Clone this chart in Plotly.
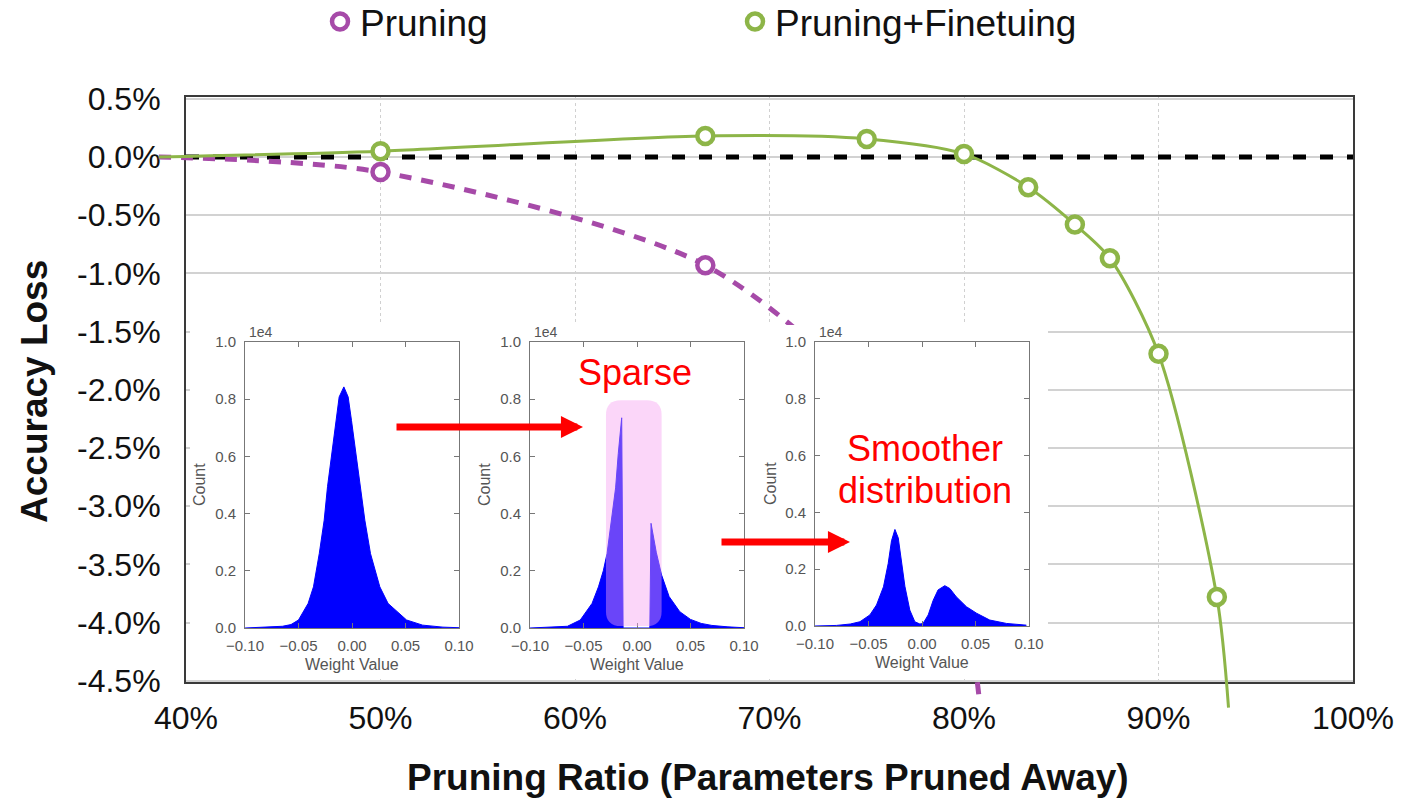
import plotly.graph_objects as go

W, H = 1408, 799

# ---------------- data ----------------
x_tick_vals = [40, 50, 60, 70, 80, 90, 100]
x_tick_labels = ["40%", "50%", "60%", "70%", "80%", "90%", "100%"]
y_tick_vals = [0.5, 0.0, -0.5, -1.0, -1.5, -2.0, -2.5, -3.0, -3.5, -4.0, -4.5]
y_tick_labels = ["0.5%", "0.0%", "-0.5%", "-1.0%", "-1.5%", "-2.0%", "-2.5%",
                 "-3.0%", "-3.5%", "-4.0%", "-4.5%"]

# Pruning (no finetuning)
prune_ratio = [50, 66.7, 75, 80]
prune_loss = [-0.13, -0.93, -2.1, -3.9]
prune_curve_x = [38.6, 50, 66.7, 75, 80, 80.8]
prune_curve_y = [0.0, -0.13, -0.93, -2.1, -3.9, -4.68]

# Pruning + Finetuning
ft_ratio = [50, 66.7, 75, 80, 83.3, 85.7, 87.5, 90, 93.0]
ft_loss = [0.05, 0.18, 0.155, 0.026, -0.26, -0.58, -0.87, -1.69, -3.78]
ft_curve_x = [38.6, 50, 66.7, 75, 80, 83.3, 85.7, 87.5, 90, 93.0, 93.6]
ft_curve_y = [0.0, 0.05, 0.18, 0.155, 0.026, -0.26, -0.58, -0.87, -1.69, -3.78, -4.73]

baseline_x = [40, 100]
baseline_y = [0.0, 0.0]

# Inset histograms (weight value -> count, in units of 1e4)
h1_x = [-0.100, -0.080, -0.065, -0.057, -0.050, -0.041, -0.036, -0.0306, -0.026, -0.0229,
        -0.019, -0.015, -0.012, -0.0076, -0.0036, -0.0005, 0.0036, 0.0076, 0.012, 0.0173,
        0.026, 0.0337, 0.051, 0.066, 0.085, 0.100]
h1_y = [0.000, 0.002, 0.006, 0.012, 0.028, 0.086, 0.144, 0.26, 0.377, 0.494,
        0.61, 0.726, 0.808, 0.843, 0.808, 0.726, 0.61, 0.494, 0.377, 0.26,
        0.144, 0.086, 0.028, 0.01, 0.003, 0.001]

h2_x = [-0.100, -0.080, -0.065, -0.053, -0.042, -0.036, -0.0315, -0.028, -0.0237, -0.020,
        -0.0175, -0.0143, -0.0130, 0.0120, 0.0131, 0.018, 0.023, 0.030, 0.040, 0.050,
        0.060, 0.070, 0.085, 0.100]
h2_y = [0.000, 0.002, 0.006, 0.028, 0.086, 0.144, 0.20, 0.26, 0.377, 0.49,
        0.61, 0.735, 0.0, 0.0, 0.366, 0.265, 0.185, 0.11, 0.057, 0.03,
        0.016, 0.009, 0.004, 0.001]

h3_x = [-0.100, -0.080, -0.067, -0.058, -0.0487, -0.0425, -0.036, -0.0316, -0.0285, -0.0253,
        -0.0222, -0.019, -0.016, -0.0114, -0.0067, -0.002, 0.001, 0.0058, 0.0104, 0.015,
        0.0213, 0.026, 0.032, 0.0415, 0.051, 0.0633, 0.079, 0.0975]
h3_y = [0.000, 0.002, 0.007, 0.015, 0.039, 0.074, 0.138, 0.22, 0.30, 0.34,
        0.31, 0.23, 0.14, 0.056, 0.015, 0.007, 0.009, 0.039, 0.09, 0.127,
        0.142, 0.132, 0.103, 0.068, 0.045, 0.021, 0.009, 0.003]

inset_x_ticks = [-0.10, -0.05, 0.00, 0.05, 0.10]
inset_y_ticks = [0.0, 0.2, 0.4, 0.6, 0.8, 1.0]

PURPLE = "#A64AA8"
GREEN = "#8DB548"
FONT = "Liberation Sans, Arial, Helvetica, sans-serif"


# ---------------- helpers (pixel -> paper) ----------------
def dx(a, b):
    return [a / W, b / W]


def dy(top, bottom):
    return [1 - bottom / H, 1 - top / H]


def px(p):
    return p / W


def py(p):
    return 1 - p / H


# main plot box (pixels)
L, R, T, B = 186, 1353, 97, 682
XR = [40, 100]
YR = [-4.51, 0.515]
sx = (XR[1] - XR[0]) / (R - L)
sy = (YR[1] - YR[0]) / (B - T)
XR_full = [XR[0] - L * sx, XR[1] + (W - R) * sx]
YR_full = [YR[0] - (H - B) * sy, YR[1] + T * sy]

fig = go.Figure()

# subplot 1: main axes (grid) -- dummy trace to fix order
fig.add_trace(go.Scatter(x=[None], y=[None], xaxis="x", yaxis="y",
                         showlegend=False, hoverinfo="skip"))

# subplot 2: full-figure overlay for the curves (same scale as main axes)
fig.add_trace(go.Scatter(x=baseline_x, y=baseline_y, xaxis="x2", yaxis="y2",
                         mode="lines", line=dict(color="black", width=5, dash="13px,14px"),
                         showlegend=False, hoverinfo="skip"))
fig.add_trace(go.Scatter(x=prune_curve_x, y=prune_curve_y, xaxis="x2", yaxis="y2",
                         mode="lines", line=dict(color=PURPLE, width=5, dash="12px,10px",
                                                 shape="spline", smoothing=0.8),
                         showlegend=False, hoverinfo="skip"))
fig.add_trace(go.Scatter(x=ft_curve_x, y=ft_curve_y, xaxis="x2", yaxis="y2",
                         mode="lines", line=dict(color=GREEN, width=3, shape="spline", smoothing=0.8),
                         showlegend=False, hoverinfo="skip"))
fig.add_trace(go.Scatter(x=prune_ratio, y=prune_loss, xaxis="x2", yaxis="y2",
                         mode="markers", name="Pruning",
                         marker=dict(symbol="circle", size=16, color="white",
                                     line=dict(color=PURPLE, width=4.5))))
fig.add_trace(go.Scatter(x=ft_ratio, y=ft_loss, xaxis="x2", yaxis="y2",
                         mode="markers", name="Pruning+Finetuing",
                         marker=dict(symbol="circle", size=16, color="white",
                                     line=dict(color=GREEN, width=4.5))))

# subplot 3: white cover behind the insets
fig.add_trace(go.Scatter(x=[0, 1, 1, 0, 0], y=[0, 0, 1, 1, 0], xaxis="x3", yaxis="y3",
                         mode="lines", fill="toself", fillcolor="white",
                         line=dict(width=0, color="white"), showlegend=False, hoverinfo="skip"))

# subplots 4-6: histogram insets
for i, (hx, hy) in enumerate([(h1_x, h1_y), (h2_x, h2_y), (h3_x, h3_y)]):
    n = i + 4
    fig.add_trace(go.Scatter(x=hx, y=hy, xaxis=f"x{n}", yaxis=f"y{n}",
                             mode="lines", fill="tozeroy", fillcolor="#0000FF",
                             line=dict(color="#0000FF", width=1),
                             showlegend=False, hoverinfo="skip"))

layout = dict(
    width=W, height=H,
    margin=dict(l=0, r=0, t=0, b=0, pad=0, autoexpand=False),
    paper_bgcolor="white", plot_bgcolor="rgba(0,0,0,0)",
    font=dict(family=FONT, color="#111111"),
    showlegend=True,
    legend=dict(orientation="h", x=px(320), xanchor="left", y=py(22), yanchor="middle",
                font=dict(size=37, family=FONT, color="#111"),
                entrywidth=370, entrywidthmode="pixels",
                bgcolor="rgba(0,0,0,0)", itemclick=False, itemdoubleclick=False),
    xaxis=dict(domain=dx(L, R), range=XR, anchor="y", tickvals=x_tick_vals, ticktext=x_tick_labels,
               showgrid=True, gridcolor="#d0d0d0", gridwidth=1, griddash="dot",
               showline=True, mirror=True, linecolor="#3a3a3a", linewidth=2, zeroline=False,
               ticks="", tickfont=dict(size=32, color="#111"), ticklabelstandoff=7,
               fixedrange=True, automargin=False),
    yaxis=dict(domain=dy(T, B), range=YR, anchor="x", tickvals=y_tick_vals, ticktext=y_tick_labels,
               showgrid=True, gridcolor="#d2d2d2", gridwidth=2,
               showline=True, mirror=True, linecolor="#3a3a3a", linewidth=2, zeroline=False,
               ticks="", tickfont=dict(size=32, color="#111"), ticklabelstandoff=17,
               fixedrange=True, automargin=False),
    xaxis2=dict(domain=[0, 1], range=XR_full, anchor="y2", visible=False, fixedrange=True,
                automargin=False),
    yaxis2=dict(domain=[0, 1], range=YR_full, anchor="x2", visible=False, fixedrange=True,
                automargin=False),
    xaxis3=dict(domain=dx(190, 1048), range=[0, 1], anchor="y3", visible=False, fixedrange=True,
                automargin=False),
    yaxis3=dict(domain=dy(325, 677), range=[0, 1], anchor="x3", visible=False, fixedrange=True,
                automargin=False),
)

inset_boxes = [(245, 459, 342, 628), (530, 744, 342, 628), (815, 1029, 342, 626)]
annotations = []
for i, (l, r, t, b) in enumerate(inset_boxes):
    n = i + 4
    common = dict(showline=True, linecolor="#777", linewidth=1, mirror="ticks",
                  ticks="inside", ticklen=5, tickcolor="#777", tickwidth=1,
                  showgrid=False, zeroline=False, fixedrange=True, automargin=False,
                  tickfont=dict(size=15, color="#555", family=FONT))
    layout[f"xaxis{n}"] = dict(domain=dx(l, r), range=[-0.1, 0.1], anchor=f"y{n}",
                               tickvals=inset_x_ticks, tickformat=".2f",
                               ticklabelstandoff=4, **common)
    layout[f"yaxis{n}"] = dict(domain=dy(t, b), range=[0, 1.0], anchor=f"x{n}",
                               tickvals=inset_y_ticks, tickformat=".1f",
                               ticklabelstandoff=5, **common)
    annotations.append(dict(text="1e4", x=px(l + 2), y=py(t), xref="paper", yref="paper",
                            xanchor="left", yanchor="bottom", showarrow=False,
                            font=dict(size=14, color="#555", family=FONT)))
    annotations.append(dict(text="Count", x=px(l - 45), y=py((t + b) / 2), xref="paper", yref="paper",
                            xanchor="center", yanchor="middle", textangle=-90, showarrow=False,
                            font=dict(size=16, color="#555", family=FONT)))
    annotations.append(dict(text="Weight Value", x=px((l + r) / 2), y=py(b + 36), xref="paper",
                            yref="paper", xanchor="center", yanchor="middle", showarrow=False,
                            font=dict(size=16, color="#555", family=FONT)))

# axis titles
annotations.append(dict(text="Accuracy Loss", x=px(34), y=py(392), xref="paper", yref="paper",
                        xanchor="center", yanchor="middle", textangle=-90, showarrow=False,
                        font=dict(size=37, color="#111", family=FONT, weight="bold")))
annotations.append(dict(text="Pruning Ratio (Parameters Pruned Away)", x=px(768), y=py(777),
                        xref="paper", yref="paper", xanchor="center", yanchor="middle",
                        showarrow=False,
                        font=dict(size=37, color="#111", family=FONT, weight="bold")))

# red callouts
red = dict(xref="paper", yref="paper", xanchor="center", yanchor="middle", showarrow=False,
           font=dict(size=36, color="#FF0000", family=FONT))
annotations.append(dict(text="Sparse", x=px(635), y=py(372), **red))
annotations.append(dict(text="Smoother", x=px(925), y=py(448), **red))
annotations.append(dict(text="distribution", x=px(925), y=py(490), **red))
annotations.append(dict(text="", x=px(583), y=py(427), xref="paper", yref="paper",
                        showarrow=True, ax=-188, ay=0, arrowhead=2, arrowwidth=7,
                        arrowsize=0.63, arrowcolor="#FF0000", standoff=0))
annotations.append(dict(text="", x=px(850), y=py(542), xref="paper", yref="paper",
                        showarrow=True, ax=-130, ay=0, arrowhead=2, arrowwidth=7,
                        arrowsize=0.63, arrowcolor="#FF0000", standoff=0))
layout["annotations"] = annotations

# pink highlight over the pruned center of the second histogram
x0, x1, y0, y1 = -0.029, 0.023, 0.007, 0.796
rx, ry = 0.014, 0.052
path = (f"M{x0 + rx},{y0} L{x1 - rx},{y0} Q{x1},{y0} {x1},{y0 + ry} L{x1},{y1 - ry} "
        f"Q{x1},{y1} {x1 - rx},{y1} L{x0 + rx},{y1} Q{x0},{y1} {x0},{y1 - ry} "
        f"L{x0},{y0 + ry} Q{x0},{y0} {x0 + rx},{y0} Z")
layout["shapes"] = [dict(type="path", path=path, xref="x5", yref="y5", layer="above",
                         fillcolor="rgba(245,160,240,0.43)", line=dict(width=0))]

fig.update_layout(**layout)
fig.write_html("out.html")
